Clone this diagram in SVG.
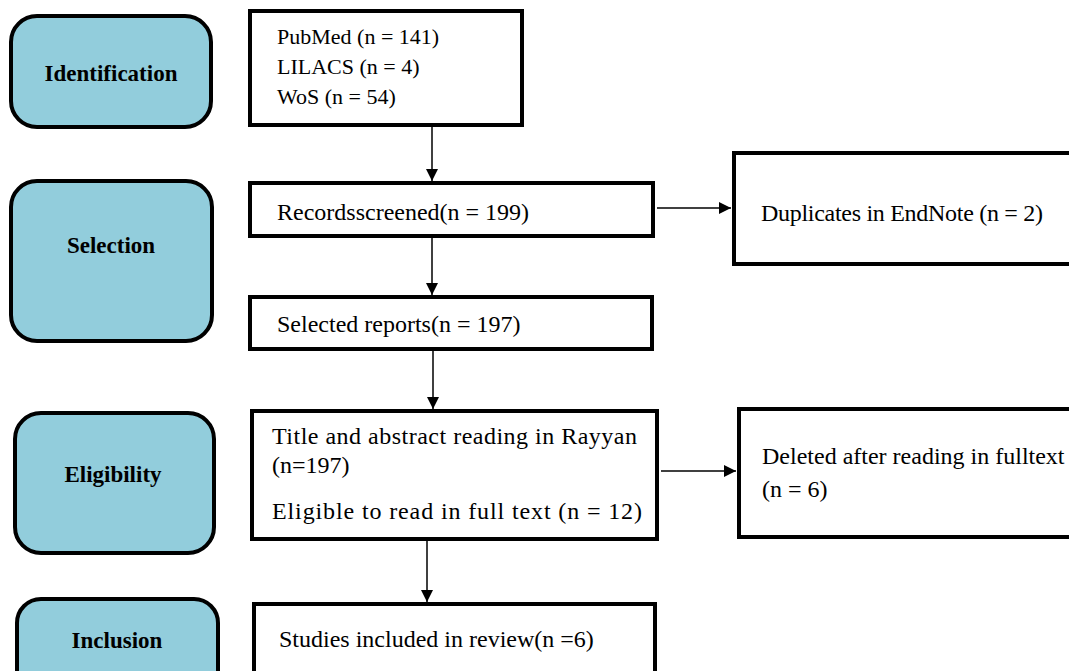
<svg xmlns="http://www.w3.org/2000/svg" width="1069" height="671" viewBox="0 0 1069 671">
<style>
.stage{fill:#92CDDC;stroke:#000;stroke-width:4}
.box{fill:#fff;stroke:#000;stroke-width:4}
.lbl{font-family:"Liberation Serif","Times New Roman",serif;font-size:23px;font-weight:bold;fill:#000;text-anchor:middle}
.t{font-family:"Liberation Serif","Times New Roman",serif;font-size:24px;fill:#000}
.s{font-size:22px}
.c{stroke:#000;stroke-width:1.5;fill:none;marker-end:url(#ah)}
</style>
<defs>
<marker id="ah" viewBox="0 0 10 10" refX="10" refY="5" markerWidth="12" markerHeight="12" markerUnits="userSpaceOnUse" orient="auto">
<path d="M0,0 L10,5 L0,10 z" fill="#000"/>
</marker>
</defs>
<rect width="1069" height="671" fill="#fff"/>
<g id="stage-identification"><rect class="stage" x="11" y="16" width="200" height="111" rx="26"/><text class="lbl" x="111" y="81">Identification</text></g>
<g id="stage-selection"><rect class="stage" x="11" y="181" width="201" height="160" rx="26"/><text class="lbl" x="111" y="253">Selection</text></g>
<g id="stage-eligibility"><rect class="stage" x="15" y="413" width="199" height="140" rx="26"/><text class="lbl" x="113" y="482">Eligibility</text></g>
<g id="stage-inclusion"><rect class="stage" x="17" y="599" width="201" height="100" rx="24"/><text class="lbl" x="117" y="648">Inclusion</text></g>

<g id="box-sources"><rect class="box" x="250" y="11" width="272" height="114"/>
<text class="t s" x="277" y="44">PubMed (n = 141)</text>
<text class="t s" x="277" y="74">LILACS (n = 4)</text>
<text class="t s" x="277" y="104">WoS (n = 54)</text></g>
<g id="box-screened"><rect class="box" x="250" y="183" width="403" height="53"/><text class="t" x="277" y="220">Recordsscreened(n = 199)</text></g>
<g id="box-duplicates"><rect class="box" x="734" y="153" width="345" height="111"/><text class="t" x="761" y="221" textLength="282" lengthAdjust="spacing">Duplicates in EndNote (n = 2)</text></g>
<g id="box-selected"><rect class="box" x="250" y="297" width="402" height="52"/><text class="t" x="277" y="332">Selected reports(n = 197)</text></g>
<g id="box-title"><rect class="box" x="252" y="411" width="405" height="128"/>
<text class="t" x="272" y="444" textLength="365" lengthAdjust="spacing">Title and abstract reading in Rayyan</text>
<text class="t" x="272" y="473">(n=197)</text>
<text class="t" x="272" y="519" textLength="370" lengthAdjust="spacing">Eligible to read in full text (n = 12)</text></g>
<g id="box-deleted"><rect class="box" x="739" y="409" width="340" height="128"/>
<text class="t" x="762" y="464">Deleted after reading in fulltext</text>
<text class="t" x="762" y="497">(n = 6)</text></g>
<g id="box-included"><rect class="box" x="254" y="604" width="401" height="90"/><text class="t" x="279" y="647">Studies included  in review(n =6)</text></g>

<g id="connectors">
<path class="c" d="M432,127 V181"/>
<path class="c" d="M432,238 V295"/>
<path class="c" d="M433,351 V409"/>
<path class="c" d="M427,541 V602"/>
<path class="c" d="M657,208 H731"/>
<path class="c" d="M661,471 H736"/>
</g>
</svg>
